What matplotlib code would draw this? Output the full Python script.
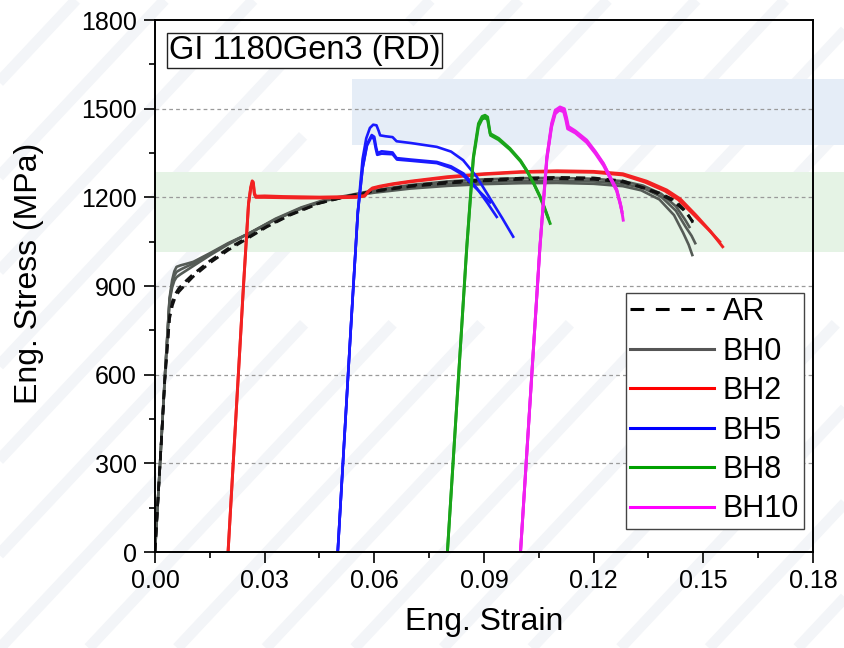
import numpy as np
import matplotlib
matplotlib.use('Agg')
import matplotlib.pyplot as plt
from matplotlib.lines import Line2D
from matplotlib.patches import Rectangle

plt.rcParams['font.family'] = ['Liberation Sans', 'DejaVu Sans']

# ---- data (strain, stress in MPa) ----
ar_1_x = [0, 0.0014, 0.0027, 0.0040, 0.0048, 0.0055, 0.0065, 0.0080, 0.0104, 0.0150, 0.0201, 0.0255, 0.0306,
          0.0370, 0.0450, 0.0530, 0.0600, 0.0700, 0.0800, 0.0900, 0.1000, 0.1100, 0.1200, 0.1280, 0.1327,
          0.1380, 0.1423, 0.1455, 0.1478]
ar_1_y = [0, 300, 580, 790, 835, 860, 880, 900, 931, 978, 1022, 1062, 1100, 1140, 1180, 1205, 1222, 1240, 1252,
          1260, 1265, 1268, 1266, 1256, 1237, 1215, 1190, 1150, 1100]
ar_2_x = [0, 0.0014, 0.0027, 0.0040, 0.0048, 0.0055, 0.0065, 0.0080, 0.0104, 0.0150, 0.0201, 0.0255, 0.0306,
          0.0370, 0.0450, 0.0530, 0.0600, 0.0700, 0.0800, 0.0900, 0.1000, 0.1100, 0.1200, 0.1280, 0.1320,
          0.1370, 0.1415, 0.1448, 0.1472]
ar_2_y = [0, 300, 585, 800, 850, 872, 892, 912, 940, 985, 1028, 1066, 1102, 1142, 1181, 1204, 1220, 1237, 1248,
          1256, 1261, 1263, 1261, 1252, 1238, 1216, 1190, 1155, 1118]

bh0_1_x = [0, 0.0014, 0.0027, 0.0040, 0.0047, 0.0053, 0.0059, 0.0070, 0.0085, 0.0105, 0.0150, 0.0200, 0.0260,
           0.0330, 0.0400, 0.0470, 0.0534, 0.0600, 0.0700, 0.0800, 0.0900, 0.1000, 0.1100, 0.1200, 0.1280,
           0.1330, 0.1380, 0.1420, 0.1445, 0.1460, 0.1470]
bh0_1_y = [0, 300, 590, 860, 920, 950, 965, 970, 975, 982, 1011, 1045, 1080, 1125, 1162, 1190, 1204, 1216,
           1230, 1239, 1245, 1248, 1249, 1246, 1238, 1224, 1193, 1140, 1080, 1040, 1005]
bh0_2_x = [0, 0.0014, 0.0027, 0.0040, 0.0047, 0.0053, 0.0059, 0.0070, 0.0085, 0.0105, 0.0150, 0.0200, 0.0260,
           0.0330, 0.0400, 0.0470, 0.0534, 0.0600, 0.0700, 0.0800, 0.0900, 0.1000, 0.1100, 0.1200, 0.1280,
           0.1335, 0.1385, 0.1425, 0.1452, 0.1468, 0.1478]
bh0_2_y = [0, 300, 590, 855, 905, 935, 948, 956, 965, 976, 1008, 1043, 1080, 1126, 1164, 1192, 1206, 1220,
           1236, 1246, 1252, 1256, 1257, 1254, 1246, 1232, 1202, 1155, 1100, 1070, 1045]
bh0_3_x = [0, 0.0014, 0.0027, 0.0040, 0.0047, 0.0053, 0.0059, 0.0070, 0.0085, 0.0105, 0.0150, 0.0200, 0.0260,
           0.0330, 0.0400, 0.0470, 0.0534, 0.0600, 0.0700, 0.0800, 0.0900, 0.1000, 0.1100, 0.1200, 0.1280,
           0.1335, 0.1385, 0.1425, 0.1450, 0.1462]
bh0_3_y = [0, 300, 590, 850, 895, 918, 930, 940, 952, 968, 1004, 1041, 1080, 1128, 1166, 1194, 1208, 1224,
           1242, 1254, 1261, 1265, 1266, 1263, 1255, 1240, 1212, 1170, 1125, 1100]

bh2_1_x = [0.0200, 0.0242, 0.0256, 0.0262, 0.0266, 0.0269, 0.0272, 0.0276, 0.0300, 0.0350, 0.0400, 0.0450,
           0.0500, 0.0550, 0.0575, 0.0585, 0.0595, 0.0615, 0.0650, 0.0700, 0.0800, 0.0900, 0.1000, 0.1100,
           0.1200, 0.1280, 0.1345, 0.1400, 0.1437, 0.1480, 0.1520, 0.1553]
bh2_1_y = [0, 897, 1180, 1235, 1256, 1252, 1215, 1204, 1205, 1203, 1202, 1201, 1202, 1203, 1206, 1222, 1232,
           1238, 1246, 1255, 1270, 1280, 1287, 1290, 1288, 1280, 1255, 1225, 1195, 1140, 1085, 1033]
bh2_2_x = [0.0200, 0.0242, 0.0256, 0.0262, 0.0266, 0.0269, 0.0272, 0.0276, 0.0300, 0.0350, 0.0400, 0.0450,
           0.0500, 0.0550, 0.0572, 0.0582, 0.0592, 0.0612, 0.0650, 0.0700, 0.0800, 0.0900, 0.1000, 0.1100,
           0.1200, 0.1280, 0.1340, 0.1395, 0.1432, 0.1475, 0.1515, 0.1545]
bh2_2_y = [0, 897, 1178, 1230, 1250, 1247, 1210, 1200, 1200, 1199, 1198, 1198, 1199, 1200, 1204, 1218, 1228,
           1235, 1244, 1253, 1267, 1278, 1285, 1287, 1285, 1276, 1252, 1222, 1192, 1140, 1090, 1050]

bh5_1_x = [0.0500, 0.0535, 0.0555, 0.0568, 0.0578, 0.0588, 0.0597, 0.0606, 0.0612, 0.0616, 0.0630, 0.0650,
           0.0661, 0.0700, 0.0771, 0.0810, 0.0843, 0.0880, 0.0920, 0.0950, 0.0980]
bh5_1_y = [0, 740, 1150, 1330, 1400, 1435, 1446, 1444, 1425, 1410, 1407, 1404, 1390, 1384, 1371, 1355, 1326,
           1270, 1190, 1130, 1067]
bh5_2_x = [0.0500, 0.0535, 0.0555, 0.0568, 0.0580, 0.0593, 0.0600, 0.0605, 0.0609, 0.0620, 0.0650, 0.0661,
           0.0700, 0.0771, 0.0810, 0.0844, 0.0880, 0.0910, 0.0935]
bh5_2_y = [0, 740, 1150, 1300, 1380, 1411, 1405, 1370, 1350, 1356, 1352, 1333, 1328, 1320, 1305, 1281, 1232,
           1180, 1134]
bh5_3_x = [0.0500, 0.0535, 0.0555, 0.0568, 0.0580, 0.0592, 0.0599, 0.0604, 0.0608, 0.0620, 0.0650, 0.0662,
           0.0700, 0.0771, 0.0810, 0.0840, 0.0875, 0.0900, 0.0917]
bh5_3_y = [0, 740, 1150, 1298, 1375, 1404, 1398, 1365, 1344, 1348, 1346, 1328, 1324, 1316, 1300, 1278, 1235,
           1205, 1183]

bh8_1_x = [0.0800, 0.0853, 0.0871, 0.0885, 0.0895, 0.0903, 0.0910, 0.0914, 0.0917, 0.0940, 0.0971, 0.1000,
           0.1017, 0.1035, 0.1053, 0.1068, 0.1081]
bh8_1_y = [0, 1033, 1337, 1450, 1474, 1478, 1472, 1440, 1416, 1400, 1366, 1325, 1292, 1250, 1202, 1155, 1112]
bh8_2_x = [0.0800, 0.0853, 0.0871, 0.0885, 0.0895, 0.0903, 0.0910, 0.0914, 0.0918, 0.0940, 0.0971, 0.1000,
           0.1017, 0.1035, 0.1053, 0.1066, 0.1076]
bh8_2_y = [0, 1030, 1330, 1440, 1465, 1469, 1463, 1435, 1410, 1395, 1362, 1322, 1290, 1250, 1205, 1165, 1130]

bh10_1_x = [0.1000, 0.1053, 0.1072, 0.1085, 0.1095, 0.1108, 0.1120, 0.1126, 0.1131, 0.1150, 0.1181, 0.1205,
            0.1227, 0.1245, 0.1263, 0.1275, 0.1281]
bh10_1_y = [0, 1033, 1337, 1450, 1495, 1506, 1500, 1470, 1440, 1425, 1394, 1355, 1315, 1270, 1225, 1170, 1123]
bh10_2_x = [0.1000, 0.1053, 0.1072, 0.1085, 0.1095, 0.1107, 0.1119, 0.1125, 0.1130, 0.1150, 0.1181, 0.1205,
            0.1227, 0.1245, 0.1263, 0.1272, 0.1277]
bh10_2_y = [0, 1030, 1332, 1444, 1488, 1500, 1494, 1466, 1436, 1420, 1390, 1352, 1312, 1270, 1228, 1185, 1155]
bh10_3_x = [0.1000, 0.1053, 0.1072, 0.1085, 0.1095, 0.1106, 0.1118, 0.1124, 0.1129, 0.1150, 0.1181, 0.1205,
            0.1227, 0.1245, 0.1263, 0.1272, 0.1278]
bh10_3_y = [0, 1028, 1328, 1438, 1483, 1495, 1490, 1462, 1432, 1418, 1386, 1348, 1308, 1265, 1222, 1180, 1148]

# highlighted stress bands (MPa) and where the upper one starts (strain)
green_band = [1016, 1286]
blue_band = [1378, 1602]
blue_band_start = 0.054

legend_names = ['AR', 'BH0', 'BH2', 'BH5', 'BH8', 'BH10']

# colours
c_ar = '#111111'
c_bh0 = '#555b56'
c_bh2 = '#f22222'
c_bh5 = '#1a1aff'
c_bh8 = '#1aa51a'
c_bh10 = '#f020f0'

fig = plt.figure(figsize=(8.44, 6.48), dpi=100)
fig.patch.set_facecolor('white')

# faint diagonal stripes in the background
for k in range(-8, 14):
    x0 = k * 0.105
    fig.add_artist(Line2D([x0, x0 + 0.72], [0, 1], transform=fig.transFigure, color='#f3f5f8',
                          lw=8, zorder=-5, solid_capstyle='butt', linestyle=(0, (40, 14))))

ax = fig.add_axes([0.1836, 0.1481, 0.7796, 0.8209])
ax.patch.set_alpha(0)

# shaded bands, they run past the right spine to the figure edge
ax.add_patch(Rectangle((0, green_band[0]), 0.2, green_band[1] - green_band[0], facecolor='#e5f3e5',
                       edgecolor='none', zorder=0.5, clip_on=False))
ax.add_patch(Rectangle((blue_band_start, blue_band[0]), 0.2 - blue_band_start, blue_band[1] - blue_band[0],
                       facecolor='#e5edf7', edgecolor='none', zorder=0.5, clip_on=False))

# the curves
lw = 1.9
for xs, ys in [(bh0_1_x, bh0_1_y), (bh0_2_x, bh0_2_y), (bh0_3_x, bh0_3_y)]:
    ax.plot(xs, ys, color=c_bh0, lw=lw, zorder=3, solid_joinstyle='round')
for xs, ys in [(ar_1_x, ar_1_y), (ar_2_x, ar_2_y)]:
    ax.plot(xs, ys, color=c_ar, lw=lw, zorder=3.2, dashes=(3.5, 2.3))
for xs, ys in [(bh2_1_x, bh2_1_y), (bh2_2_x, bh2_2_y)]:
    ax.plot(xs, ys, color=c_bh2, lw=2.1, zorder=3.4, solid_joinstyle='round')
for xs, ys in [(bh5_1_x, bh5_1_y), (bh5_2_x, bh5_2_y), (bh5_3_x, bh5_3_y)]:
    ax.plot(xs, ys, color=c_bh5, lw=lw, zorder=3.5, solid_joinstyle='round')
for xs, ys in [(bh8_1_x, bh8_1_y), (bh8_2_x, bh8_2_y)]:
    ax.plot(xs, ys, color=c_bh8, lw=2.1, zorder=3.6, solid_joinstyle='round')
for xs, ys in [(bh10_1_x, bh10_1_y), (bh10_2_x, bh10_2_y), (bh10_3_x, bh10_3_y)]:
    ax.plot(xs, ys, color=c_bh10, lw=2.1, zorder=3.7, solid_joinstyle='round')

# axes, ticks, grid
ax.set_xlim(0, 0.18)
ax.set_ylim(0, 1800)
ax.set_xticks(np.arange(0, 0.181, 0.03))
ax.set_xticks(np.arange(0.015, 0.18, 0.03), minor=True)
ax.set_yticks(np.arange(0, 1801, 300))
ax.set_yticks(np.arange(150, 1800, 300), minor=True)
ax.set_xticklabels(['0.00', '0.03', '0.06', '0.09', '0.12', '0.15', '0.18'])
ax.tick_params(which='major', direction='out', length=8, width=1.2, labelsize=18, pad=4)
ax.tick_params(which='minor', direction='out', length=4.5, width=1.2)
ax.tick_params(axis='y', which='major', pad=5)
for s in ax.spines.values():
    s.set_linewidth(1.4)
    s.set_zorder(5)
for v in [300, 600, 900, 1200, 1500]:
    ax.axhline(v, color='#9a9a9a', lw=0.9, dashes=(3, 2.5), zorder=1)

ax.set_xlabel('Eng. Strain', fontsize=23, labelpad=10)
ax.set_ylabel('Eng. Stress (MPa)', fontsize=23)
ax.yaxis.set_label_coords(-0.168, 0.524)

# sample label in the upper left
ax.text(0.021, 0.972, 'GI 1180Gen3 (RD)', transform=ax.transAxes, fontsize=23.5, va='top', ha='left',
        zorder=6, bbox=dict(boxstyle='square,pad=0.05', facecolor='white', edgecolor='#222222', lw=1.0))

# legend with its own handles (longer dashes than the curves)
handles = [Line2D([], [], color='black', lw=2.2, dashes=(4.5, 3.8)),
           Line2D([], [], color='#555555', lw=2.2),
           Line2D([], [], color='#ff0000', lw=2.2),
           Line2D([], [], color='#0000ff', lw=2.2),
           Line2D([], [], color='#00a000', lw=2.2),
           Line2D([], [], color='#ff00ff', lw=2.2)]
leg = ax.legend(handles, legend_names, loc='lower right', bbox_to_anchor=(0.9863, 0.0432), borderaxespad=0,
                fontsize=22, handlelength=2.75, handletextpad=0.28, labelspacing=0.31, borderpad=0.15,
                fancybox=False, framealpha=1, edgecolor='#444444')
leg.get_frame().set_linewidth(1.0)
leg.set_zorder(6)

fig.savefig('out.png', dpi=100)
